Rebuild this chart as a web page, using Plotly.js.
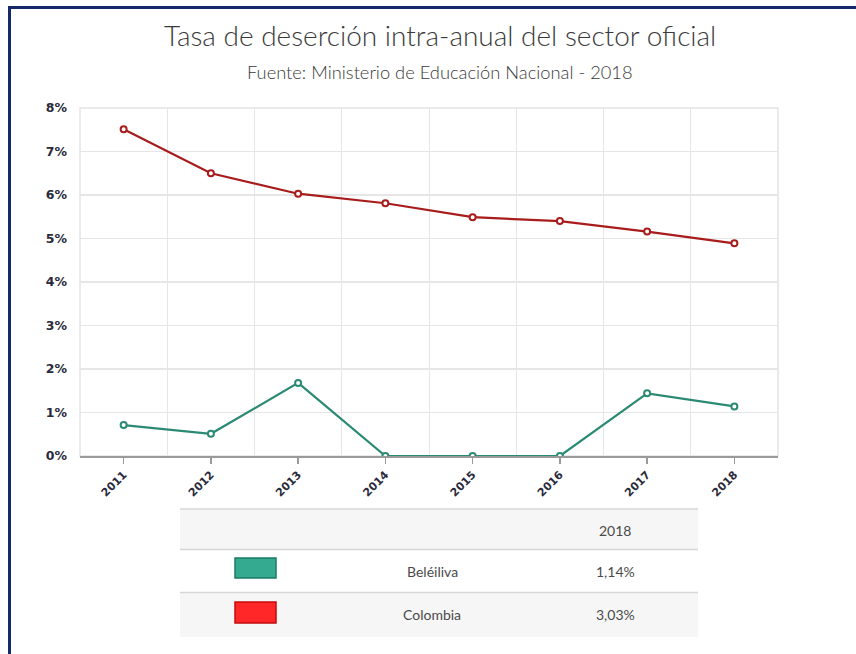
<!DOCTYPE html>
<html>
<head>
<meta charset="utf-8">
<script src="https://cdn.plot.ly/plotly-3.0.1.min.js"></script>
<style>html,body{margin:0;padding:0;background:#fff;}#chart{width:856px;height:654px;}</style>
</head>
<body>
<div id="chart"></div>
<script>
// ---- data ----
const years = [2011, 2012, 2013, 2014, 2015, 2016, 2017, 2018];
const colombia = [7.51, 6.50, 6.03, 5.81, 5.49, 5.40, 5.16, 4.89];
const beteitiva = [0.71, 0.51, 1.68, 0, 0, 0, 1.44, 1.14];
const yTicks = [0, 1, 2, 3, 4, 5, 6, 7, 8];
const yTickLabels = ['0%', '1%', '2%', '3%', '4%', '5%', '6%', '7%', '8%'];
const tableHeader = '2018';
const tableNames = ['Beléiliva', 'Colombia'];
const tableValues = ['1,14%', '3,03%'];

// ---- geometry helpers (pixel -> paper) ----
const W = 856, H = 654;
const L = 80, R = 778, T = 108, B = 456;
const px = x => (x - L) / (R - L);
const py = y => (B - y) / (B - T);

const green = '#2b8a73', red = '#a81c1c';
const fontMain = 'Lato, "Noto Sans", sans-serif';
const gridColor = '#e6e6e6';
const boundaries = years.slice(0, -1).map(y => y + 0.5);

const traces = [
  {x: years, y: colombia, type: 'scatter', mode: 'lines+markers', name: 'Colombia',
   xaxis: 'x2', yaxis: 'y',
   line: {color: red, width: 2.2},
   marker: {symbol: 'circle', size: 6, color: '#fff', line: {color: red, width: 2}}},
  {x: years, y: beteitiva, type: 'scatter', mode: 'lines+markers', name: 'Beléiliva',
   xaxis: 'x2', yaxis: 'y',
   line: {color: green, width: 2.2},
   marker: {symbol: 'circle', size: 6, color: '#fff', line: {color: green, width: 2}}},
  {x: years, y: colombia, type: 'scatter', mode: 'markers', xaxis: 'x', yaxis: 'y',
   marker: {opacity: 0}, hoverinfo: 'skip', showlegend: false}
];

const shapes = [
  {type: 'rect', xref: 'paper', yref: 'paper', x0: 0, x1: 1, y0: 0, y1: 1,
   line: {color: '#e4e4e4', width: 1.5}, layer: 'below'},
  {type: 'line', xref: 'paper', yref: 'paper', x0: px(9.5), x1: px(9.5), y0: py(7), y1: py(660),
   line: {color: '#13296a', width: 3}},
  {type: 'line', xref: 'paper', yref: 'paper', x0: px(8), x1: px(860), y0: py(7.5), y1: py(7.5),
   line: {color: '#13296a', width: 3}},
  {type: 'rect', xref: 'paper', yref: 'paper', x0: px(180), x1: px(698), y0: py(509), y1: py(549),
   fillcolor: '#f6f6f6', line: {width: 0}},
  {type: 'rect', xref: 'paper', yref: 'paper', x0: px(180), x1: px(698), y0: py(593), y1: py(637),
   fillcolor: '#f6f6f6', line: {width: 0}},
  {type: 'line', xref: 'paper', yref: 'paper', x0: px(180), x1: px(698), y0: py(509), y1: py(509),
   line: {color: '#d6d6d6', width: 1.5}},
  {type: 'line', xref: 'paper', yref: 'paper', x0: px(180), x1: px(698), y0: py(549.5), y1: py(549.5),
   line: {color: '#d6d6d6', width: 1.5}},
  {type: 'line', xref: 'paper', yref: 'paper', x0: px(180), x1: px(698), y0: py(592.5), y1: py(592.5),
   line: {color: '#d6d6d6', width: 1.5}},
  {type: 'rect', xref: 'paper', yref: 'paper', x0: px(235), x1: px(276), y0: py(558), y1: py(578),
   fillcolor: '#34aa90', line: {color: '#1f7a63', width: 1.5}},
  {type: 'rect', xref: 'paper', yref: 'paper', x0: px(235), x1: px(276), y0: py(602), y1: py(623),
   fillcolor: '#ff2727', line: {color: '#c40d0d', width: 1.5}}
];

const tableFont = {family: fontMain, size: 14, color: '#4a4a4a', weight: 400};
const annotations = [
  {text: 'Tasa de deserción intra-anual del sector oficial', xref: 'paper', yref: 'paper',
   x: px(440), y: py(35), showarrow: false, xanchor: 'center', yanchor: 'middle',
   font: {family: fontMain, size: 28, color: '#3a3a3a', weight: 300}},
  {text: 'Fuente: Ministerio de Educación Nacional - 2018', xref: 'paper', yref: 'paper',
   x: px(440), y: py(72), showarrow: false, xanchor: 'center', yanchor: 'middle',
   font: {family: fontMain, size: 18.3, color: '#3a3a3a', weight: 300}},
  {text: tableHeader, xref: 'paper', yref: 'paper', x: px(615), y: py(530), showarrow: false,
   xanchor: 'center', yanchor: 'middle', font: tableFont}
];
tableNames.forEach((n, i) => {
  const yy = [571, 614][i];
  annotations.push({text: n, xref: 'paper', yref: 'paper', x: px(432), y: py(yy), showarrow: false,
    xanchor: 'center', yanchor: 'middle', font: tableFont});
  annotations.push({text: tableValues[i], xref: 'paper', yref: 'paper', x: px(615), y: py(yy), showarrow: false,
    xanchor: 'center', yanchor: 'middle', font: tableFont});
});

const layout = {
  width: W, height: H,
  margin: {l: L, r: W - R, t: T, b: H - B},
  paper_bgcolor: '#fff', plot_bgcolor: '#fff',
  showlegend: false,
  xaxis: {
    range: [2010.5, 2018.5], tickmode: 'array', tickvals: boundaries, showticklabels: false,
    showgrid: true, gridcolor: gridColor, gridwidth: 1, zeroline: false, showline: false,
    ticks: '', fixedrange: true
  },
  xaxis2: {
    overlaying: 'x', anchor: 'y', side: 'bottom',
    range: [2010.5, 2018.5], tickmode: 'array', tickvals: years, ticktext: years.map(String),
    tickangle: -45, showgrid: false, zeroline: false,
    showline: true, linecolor: '#9a9a9a', linewidth: 2,
    ticks: 'outside', ticklen: 6, tickcolor: '#9a9a9a', tickwidth: 1.5,
    tickfont: {family: '"DejaVu Sans", sans-serif', size: 11, color: '#2a2a3a', weight: 'bold'},
    fixedrange: true
  },
  yaxis: {
    range: [0, 8], tickmode: 'array', tickvals: yTicks, ticktext: yTickLabels,
    showgrid: true, gridcolor: gridColor, gridwidth: 1.2, zeroline: false, showline: false,
    ticks: '', ticklabelstandoff: 12,
    tickfont: {family: '"DejaVu Sans", sans-serif', size: 12.5, color: '#2a2a3a', weight: 'bold'},
    fixedrange: true
  },
  shapes: shapes,
  annotations: annotations
};

Plotly.newPlot('chart', traces, layout, {displayModeBar: false, staticPlot: true});
</script>
</body>
</html>
